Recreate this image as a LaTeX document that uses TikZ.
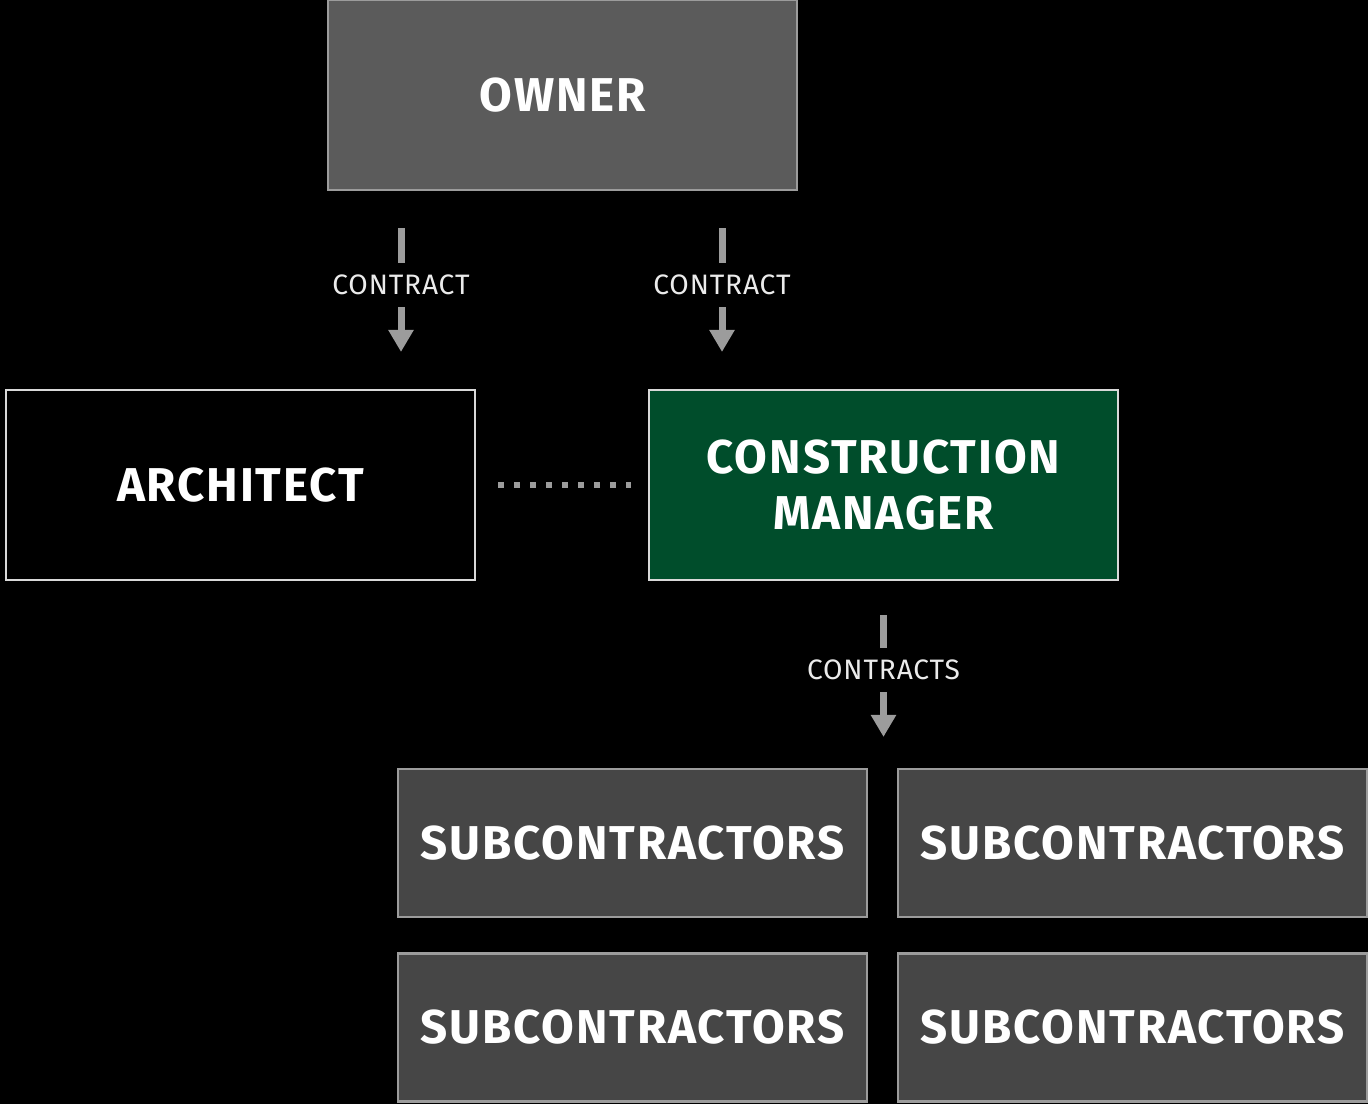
\documentclass[tikz,border=0pt]{standalone}
\usepackage{fontspec}
\setmainfont{Fira Sans}
\newfontfamily\boxfont[LetterSpace=4]{Fira Sans Bold}
\newfontfamily\labelfont[LetterSpace=3]{Fira Sans}
\usetikzlibrary{arrows.meta,positioning}
\definecolor{ownergray}{HTML}{5B5B5B}
\definecolor{subgray}{HTML}{464646}
\definecolor{cmgreen}{HTML}{004D2B}
\definecolor{flowgray}{HTML}{9C9C9C}
\tikzset{%
    >={Triangle[width=0.48cm,length=0.44cm]},
    % Specifications for style of nodes:
    base/.style = {
        rectangle, draw=white!85!black, line width=1.2pt,
        minimum width=9.38cm, minimum height=3.8cm,
        text centered, font=\boxfont\fontsize{27}{32}\selectfont,
        text=white, align=center
    },
    owner-box/.style = {base, fill=ownergray, draw=flowgray},
    arch-box/.style = {base, fill=black},
    cm-box/.style = {base, fill=cmgreen},
    sub-box/.style = {base, fill=subgray, draw=flowgray, minimum height=2.96cm},
    flow/.style = {->, draw=flowgray, line width=0.14cm,
        shorten <=0.74cm, shorten >=0.74cm},
    flow-label/.style = {fill=black, text=white!92!black, inner xsep=2pt,
        inner ysep=0.24cm, pos=0.475, font=\labelfont\fontsize{16}{19}\selectfont}
}
\begin{document}
\begin{tikzpicture}
    \fill[black] (0,0) rectangle (27.36,-22.08);
    \useasboundingbox (0,0) rectangle (27.36,-22.08);
    % boxes
    \node[owner-box] (owner) at (11.25,-1.9) {OWNER};
    \node[arch-box] (arch) at (4.81,-9.7) {ARCHITECT};
    \node[cm-box] (cm) at (17.67,-9.7) {CONSTRUCTION\\[0pt]MANAGER};
    \node[sub-box] (sub1) at (12.65,-16.86) {SUBCONTRACTORS};
    \node[sub-box] (sub2) at (22.65,-16.86) {SUBCONTRACTORS};
    \node[sub-box] (sub3) at (12.65,-20.55) {SUBCONTRACTORS};
    \node[sub-box] (sub4) at (22.65,-20.55) {SUBCONTRACTORS};
    % contracts
    \coordinate (archline) at (8.02,0);
    \coordinate (cmline) at (14.44,0);
    \draw[flow] (owner.south -| archline) -- node[flow-label] {CONTRACT} (arch.north -| archline);
    \draw[flow] (owner.south -| cmline) -- node[flow-label] {CONTRACT} (cm.north -| cmline);
    \draw[flow, shorten <=0.68cm, shorten >=0.62cm] (cm.south) -- node[flow-label] {CONTRACTS} (cm.south |- sub1.north);
    % coordination only
    \draw[draw=flowgray, line width=0.12cm, dash pattern=on 0.12cm off 0.2cm,
        shorten <=0.44cm, shorten >=0.34cm] (arch.east) -- (cm.west);
\end{tikzpicture}
\end{document}
